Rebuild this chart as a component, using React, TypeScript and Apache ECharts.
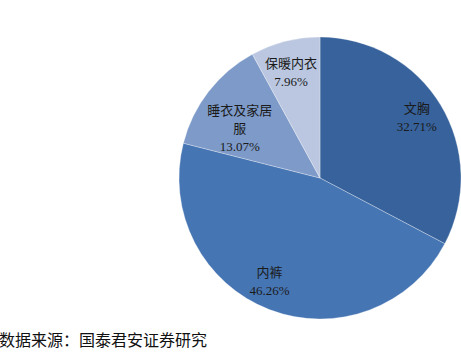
import React, { useEffect, useRef } from "react";
import * as echarts from "echarts";

const categories = ["文胸", "内裤", "睡衣及家居服", "保暖内衣"];
const values = [32.71, 46.26, 13.07, 7.96];
const colors = ["#37629B", "#4675B3", "#7E9AC9", "#BBC7E0"];
const sourceText = "数据来源：国泰君安证券研究";

// small label nudges (style only)
const labelNudge: Record<string, [number, number]> = {
  文胸: [0, -2],
  内裤: [-10, -2],
  睡衣及家居服: [9, 20],
  保暖内衣: [-1, 4],
};

const wrapName = (s: string) => (s.length > 5 ? s.slice(0, 5) + "\n" + s.slice(5) : s);

export default function App() {
  const ref = useRef<HTMLDivElement>(null);
  useEffect(() => {
    const chart = echarts.init(ref.current!, null, { renderer: "svg" });
    const data = categories.map((name, i) => ({
      name,
      value: values[i],
      itemStyle: { color: colors[i] },
    }));
    chart.setOption({
      animation: false,
      title: {
        text: sourceText,
        left: -1,
        top: 331,
        padding: 0,
        textStyle: {
          fontFamily: "Noto Sans CJK SC",
          fontSize: 16,
          fontWeight: "normal",
          color: "#111",
        },
      },
      series: [
        {
          type: "pie",
          center: [320, 178],
          radius: [0, 141],
          startAngle: 90,
          clockwise: true,
          silent: true,
          label: { show: false },
          labelLine: { show: false },
          itemStyle: { borderColor: "rgba(255,255,255,0.5)", borderWidth: 0.6 },
          data,
        },
        {
          type: "pie",
          center: [320, 178],
          radius: [0, 220],
          startAngle: 90,
          clockwise: true,
          silent: true,
          avoidLabelOverlap: false,
          labelLayout: { hideOverlap: false },
          itemStyle: { color: "transparent" },
          labelLine: { show: false },
          label: {
            show: true,
            position: "inside",
            formatter: (p: any) => `${wrapName(p.name)}\n${p.value.toFixed(2)}%`,
            fontFamily: "Liberation Serif, Noto Sans CJK SC",
            fontSize: 13,
            lineHeight: 18,
            color: "#1a1a1a",
            align: "center",
          },
          data: categories.map((name, i) => ({
            name,
            value: values[i],
            label: { offset: labelNudge[name] },
          })),
        },
      ],
    });
    return () => chart.dispose();
  }, []);
  return (
    <div
      ref={ref}
      style={{ position: "fixed", left: 0, top: 0, width: 461, height: 355, background: "#fff" }}
    />
  );
}
